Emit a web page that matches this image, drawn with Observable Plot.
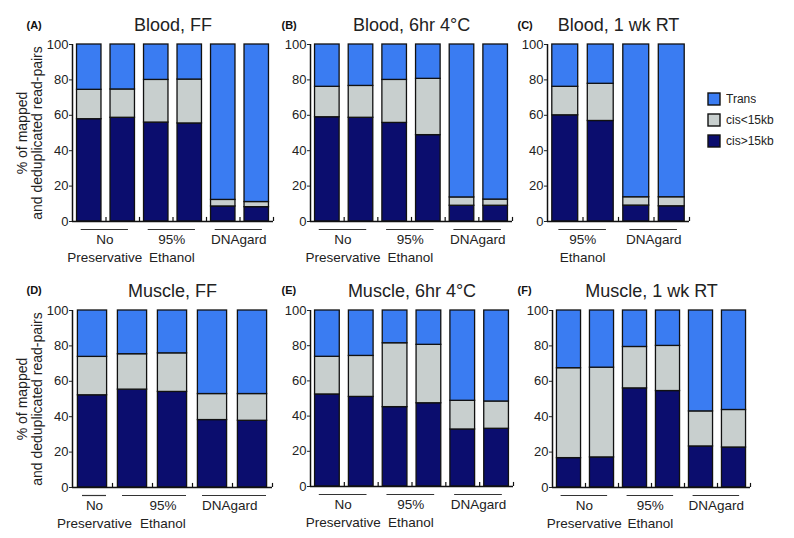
<!DOCTYPE html>
<html><head><meta charset="utf-8">
<script src="https://cdn.jsdelivr.net/npm/d3@7"></script>
<script src="https://cdn.jsdelivr.net/npm/@observablehq/plot@0.6"></script>
<style>
body{margin:0;background:#fff;font-family:"Liberation Sans",Arial,sans-serif;}
#root{position:relative;width:794px;height:538px;overflow:hidden;background:#fff;}
.panel{position:absolute;}
.panel svg{max-width:none;overflow:visible;}
#legend{position:absolute;left:708px;top:92px;font-family:"Liberation Sans",Arial,sans-serif;}
#legend svg{overflow:visible;}
#legend svg rect{stroke:#111;stroke-width:1.4px;}
#legend [class$="-swatch"]{margin-bottom:6px;}
</style></head><body><div id="root"><div id="legend"></div></div>
<script>
// ---- categories / series ----
const stackNames = ["cis>15kb", "cis<15kb", "Trans"];
const stackColors = ["#0b0d6e", "#c8cfce", "#3a7cf2"];
const legendOrder = ["Trans", "cis<15kb", "cis>15kb"];
const yTicks = [0, 20, 40, 60, 80, 100];
const yLabel = "% of mapped\nand deduplicated read-pairs";

// Panel A – Blood, FF
const titleA = "Blood, FF";
const groupsA = ["No\nPreservative", "95%\nEthanol", "DNAgard"];
const sizesA = [2, 2, 2];
const gtA = [57.8, 58.6, 55.9, 55.4, 8.5, 8.1];
const ltA = [16.6, 16.0, 24.1, 24.8, 3.7, 2.9];
const trA = [25.6, 25.4, 20.0, 19.8, 87.8, 89.0];

// Panel B – Blood, 6hr 4°C
const titleB = "Blood, 6hr 4°C";
const groupsB = ["No\nPreservative", "95%\nEthanol", "DNAgard"];
const sizesB = [2, 2, 2];
const gtB = [58.9, 58.6, 55.7, 48.8, 8.9, 8.9];
const ltB = [17.2, 18.0, 24.3, 31.8, 4.7, 3.5];
const trB = [23.9, 23.4, 20.0, 19.4, 86.4, 87.6];

// Panel C – Blood, 1 wk RT
const titleC = "Blood, 1 wk RT";
const groupsC = ["95%\nEthanol", "DNAgard"];
const sizesC = [2, 2];
const gtC = [60.0, 56.8, 9.0, 8.6];
const ltC = [16.1, 21.0, 4.7, 5.1];
const trC = [23.9, 22.2, 86.3, 86.3];

// Panel D – Muscle, FF
const titleD = "Muscle, FF";
const groupsD = ["No\nPreservative", "95%\nEthanol", "DNAgard"];
const sizesD = [1, 2, 2];
const gtD = [52.1, 55.3, 54.0, 38.1, 37.7];
const ltD = [21.7, 20.0, 21.8, 14.7, 15.1];
const trD = [26.2, 24.7, 24.2, 47.2, 47.2];

// Panel E – Muscle, 6hr 4°C
const titleE = "Muscle, 6hr 4°C";
const groupsE = ["No\nPreservative", "95%\nEthanol", "DNAgard"];
const sizesE = [2, 2, 2];
const gtE = [52.3, 50.9, 45.1, 47.3, 32.4, 32.8];
const ltE = [21.4, 23.3, 36.3, 33.2, 16.3, 15.5];
const trE = [26.3, 25.8, 18.6, 19.5, 51.3, 51.7];

// Panel F – Muscle, 1 wk RT
const titleF = "Muscle, 1 wk RT";
const groupsF = ["No\nPreservative", "95%\nEthanol", "DNAgard"];
const sizesF = [2, 2, 2];
const gtF = [16.6, 17.0, 56.0, 54.5, 23.2, 22.6];
const ltF = [50.8, 50.7, 23.4, 25.5, 19.8, 21.2];
const trF = [32.6, 32.3, 20.6, 20.0, 57.0, 56.2];

// ---- build ----
const FONT = '"Liberation Sans", Arial, sans-serif';

function stackRows(gt, lt, tr) {
  const rows = [];
  gt.forEach((_, i) => {
    const vals = [gt[i], lt[i], tr[i]];
    let base = 0;
    vals.forEach((v, k) => {
      rows.push({bar: i, type: stackNames[k], y1: base, y2: base + v});
      base += v;
    });
  });
  return rows;
}

function panel(cfg) {
  const n = cfg.gt.length;
  const rows = stackRows(cfg.gt, cfg.lt, cfg.tr);
  const bars = d3.range(n);
  let s = 0;
  const shifts = cfg.textShift || cfg.groups.map(() => null);
  const groups = cfg.groups.map((g, j) => {
    const a = s; s += cfg.sizes[j];
    return {label: g, i0: a, i1: s - 1, shift: shifts[j]};
  });
  const gl = cfg.gl, gr = cfg.gr;
  const hasAxisMark = typeof Plot.axisY === "function";
  const marks = [
    Plot.rectY(rows, {x1: d => d.bar - 0.365, x2: d => d.bar + 0.365, y1: "y1", y2: "y2",
      fill: "type", stroke: "#111", strokeWidth: 1.3}),
    Plot.ruleY([0], {stroke: "#111", strokeWidth: 1.5}),
    Plot.ruleX([-0.5], {y1: 0, y2: 100, stroke: "#111", strokeWidth: 1.5}),
    Plot.ruleX(bars, {x: i => i + 0.5, y1: 0, y2: 2.3, stroke: "#111", strokeWidth: 1.2}),
    Plot.ruleY(groups, {x1: g => g.i0 - gl, x2: g => g.i1 + gr, y: 0, dy: 8, stroke: "#333", strokeWidth: 1.2}),
    Plot.text(groups, {x: g => g.shift == null ? (g.i0 - gl + g.i1 + gr) / 2 : (g.i0 + g.i1) / 2 + g.shift,
      y: 0, text: "label", dy: 10.5,
      lineAnchor: "top", lineHeight: 1.3, fontSize: 13.5, fill: "#222"}),
    Plot.text([cfg.title], {text: d => d, frameAnchor: "top", dy: cfg.tdy, lineAnchor: "middle",
      fontSize: 18, fill: "#222"}),
    Plot.text([cfg.letter], {text: d => d, frameAnchor: "top-left", textAnchor: "start", dx: cfg.ldx,
      dy: cfg.tdy - 0.5, lineAnchor: "middle", fontSize: 11, fontWeight: "bold", fill: "#111"})
  ];
  if (hasAxisMark) {
    marks.push(Plot.axisY(yTicks, {tickSize: 3, tickPadding: 1, fontSize: 13, label: null, color: "#222"}));
  }
  if (cfg.ylabel) {
    marks.push(Plot.text([yLabel], {text: d => d, frameAnchor: "left", rotate: -90, dx: -43,
      lineAnchor: "middle", textAnchor: "middle", lineHeight: 1.05, fontSize: 14, fill: "#222"}));
  }
  const svg = Plot.plot({
    width: cfg.width, height: cfg.height,
    marginLeft: cfg.mL, marginRight: cfg.mR, marginTop: cfg.mT, marginBottom: cfg.mB,
    style: {fontFamily: FONT, fontSize: "13px", color: "#222", background: "transparent", overflow: "visible"},
    x: {domain: [-0.5, n - 0.5], axis: null},
    y: hasAxisMark ? {domain: [0, 100]} : {domain: [0, 100], ticks: yTicks, tickSize: 3, tickPadding: 1, label: null},
    color: {domain: stackNames, range: stackColors},
    marks
  });
  const div = document.createElement("div");
  div.className = "panel";
  div.style.left = cfg.left + "px";
  div.style.top = cfg.top + "px";
  div.style.width = cfg.width + "px";
  div.appendChild(svg);
  document.getElementById("root").appendChild(div);
}

const row1 = {top: 0, height: 268, mT: 44, mB: 47, tdy: -19};
const row2 = {top: 268, height: 270, mT: 42, mB: 51, tdy: -19.5};

panel({...row1, letter: "(A)", title: titleA, groups: groupsA, sizes: sizesA, gt: gtA, lt: ltA, tr: trA,
  left: 0, width: 278, mL: 72, mR: 5, ldx: -46, gl: 0.24, gr: 0.17, ylabel: true});
panel({...row1, letter: "(B)", title: titleB, groups: groupsB, sizes: sizesB, gt: gtB, lt: ltB, tr: trB,
  left: 262, width: 255, mL: 48, mR: 5, ldx: -29, gl: 0.24, gr: 0.17});
panel({...row1, letter: "(C)", title: titleC, groups: groupsC, sizes: sizesC, gt: gtC, lt: ltC, tr: trC,
  left: 510, width: 184, mL: 37, mR: 5, ldx: -30, gl: 0.18, gr: 0.16});
panel({...row2, letter: "(D)", title: titleD, groups: groupsD, sizes: sizesD, gt: gtD, lt: ltD, tr: trD,
  left: 0, width: 278, mL: 72, mR: 6, ldx: -46, gl: 0.25, gr: 0.35, ylabel: true, textShift: [0.05, 0.26, -0.07]});
panel({...row2, letter: "(E)", title: titleE, groups: groupsE, sizes: sizesE, gt: gtE, lt: ltE, tr: trE,
  left: 262, width: 255, mL: 48, mR: 4, ldx: -29, gl: 0.24, gr: 0.17, mB: 52});
panel({...row2, letter: "(F)", title: titleF, groups: groupsF, sizes: sizesF, gt: gtF, lt: ltF, tr: trF,
  left: 510, width: 245, mL: 42, mR: 5, ldx: -35, gl: 0.24, gr: 0.17});

// legend
const legendColors = legendOrder.map(k => stackColors[stackNames.indexOf(k)]);
const lg = Plot.legend({
  color: {domain: legendOrder, range: legendColors},
  legend: "swatches", columns: 1, swatchSize: 12,
  style: {fontFamily: FONT, fontSize: "12px", color: "#222"}
});
document.getElementById("legend").appendChild(lg);
</script></body></html>
